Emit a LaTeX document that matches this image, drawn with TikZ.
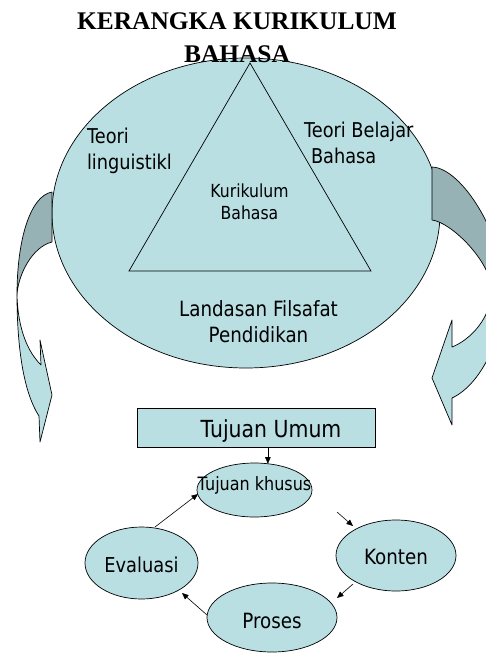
\documentclass[tikz,border=0pt]{standalone}
\usepackage{fontspec}
\setmainfont{Liberation Serif}
\newfontfamily\tah[FakeStretch=0.87]{DejaVu Sans}
\usetikzlibrary{shapes.geometric,arrows.meta}
\definecolor{lblue}{RGB}{185,223,227}
\definecolor{dband}{RGB}{150,178,181}
\newcommand\mytxt[3]{\smash{\makebox[0pt]{\hspace*{#1}\raisebox{#2}{#3}}}}
\begin{document}
\begin{tikzpicture}[x=1pt,y=-1pt,line width=0.7pt,
  every node/.style={inner sep=0pt,outer sep=0pt},
  lbl/.style={font=\tah\fontsize{20.4}{24}\selectfont},
  lblsm/.style={font=\tah\fontsize{18}{22}\selectfont},
  ttl/.style={font=\bfseries\fontsize{25.4}{30}\selectfont,anchor=base},
  ell/.style={draw,fill=lblue,ellipse,inner sep=0pt},
  band/.style={draw,line join=round},
  conn/.style={-{Triangle[length=6.5pt,width=5.5pt]},line width=0.6pt}]
\useasboundingbox (0,0) rectangle (486,653);

% main circle and triangle
\draw[fill=lblue] (246,213) ellipse [x radius=194pt, y radius=155pt];
\draw (250,63) -- (371,271) -- (129,271) -- cycle;

% curved arrows
\draw[band,fill=dband] (52,192) .. controls (30,196) and (17,240) .. (17,295)
  .. controls (18,275) and (32,247) .. (52,242) -- cycle;
\draw[band,fill=lblue] (17,295) .. controls (17,340) and (22,390) .. (39,416)
  -- (40,442) -- (52,395) -- (40,340) -- (41,365)
  .. controls (28,352) and (18,330) .. (17,295) -- cycle;
\begin{scope}
\clip (0,0) rectangle (486,653);
\draw[band,fill=dband] (432,167) .. controls (462,168) and (503,235) .. (505,290)
  -- (492,288) .. controls (488,258) and (450,222) .. (432,220) -- cycle;
\draw[band,fill=lblue] (505,290) .. controls (503,340) and (480,385) .. (452,398)
  -- (452,425) -- (432,378) -- (452,320) -- (452,347)
  .. controls (470,340) and (492,318) .. (492,288) -- cycle;
\end{scope}

% title
\node[ttl] (t1) at (237,29) {KERANGKA KURIKULUM};
\node[ttl] (t2) at (237,62) {BAHASA};

% labels in the circle
\node[lbl,anchor=base west] (tl1) at (87,143) {Teori};
\node[lbl,anchor=base west] (tl2) at (87,169) {linguistikl};
\node[lbl,anchor=base west] (tb1) at (304,137) {Teori Belajar};
\node[lbl,anchor=base west] (tb2) at (311,163) {Bahasa};
\node[lblsm,anchor=base] (kb1) at (249.5,197) {Kurikulum};
\node[lblsm,anchor=base] (kb2) at (249.5,219) {Bahasa};
\node[lbl,font=\tah\fontsize{21}{24}\selectfont,anchor=base] (lf1) at (258.5,316) {Landasan Filsafat};
\node[lbl,font=\tah\fontsize{21}{24}\selectfont,anchor=base] (lf2) at (258.5,342) {Pendidikan};

% lower cycle
\node[draw,fill=lblue,minimum width=238pt,minimum height=39pt,font=\tah\fontsize{23.5}{26}\selectfont]
  (tu) at (256,427.5) {\mytxt{30pt}{-9.5pt}{Tujuan Umum}};
\node[ell,minimum width=115pt,minimum height=54pt,font=\tah\fontsize{18.4}{22}\selectfont]
  (tk) at (254.5,490) {\mytxt{0pt}{0pt}{Tujuan khusus}};
\node[ell,minimum width=113pt,minimum height=72pt,font=\tah\fontsize{20.5}{24}\selectfont]
  (ev) at (141.5,563) {\mytxt{0pt}{-9pt}{Evaluasi}};
\node[ell,minimum width=120pt,minimum height=71pt,font=\tah\fontsize{21}{24}\selectfont]
  (ko) at (396,555.5) {\mytxt{0pt}{-9pt}{Konten}};
\node[ell,minimum width=130pt,minimum height=69pt,font=\tah\fontsize{21}{24}\selectfont]
  (pr) at (272,617.5) {\mytxt{0pt}{-10.5pt}{Proses}};

\draw[conn] (tu.south -| tk.63) -- (tk.63);
\draw[conn] ([shift={(82.5,22)}]tk.center) -- ([shift={(-43,-29.5)}]ko.center);
\draw[conn] ([shift={(-43,28.5)}]ko.center) -- ([shift={(65,-19.5)}]pr.center);
\draw[conn] ([shift={(-65,-2.5)}]pr.center) -- ([shift={(40.5,30)}]ev.center);
\draw[conn] ([shift={(13.5,-36)}]ev.center) -- ([shift={(-56.5,4)}]tk.center);
\end{tikzpicture}
\end{document}
